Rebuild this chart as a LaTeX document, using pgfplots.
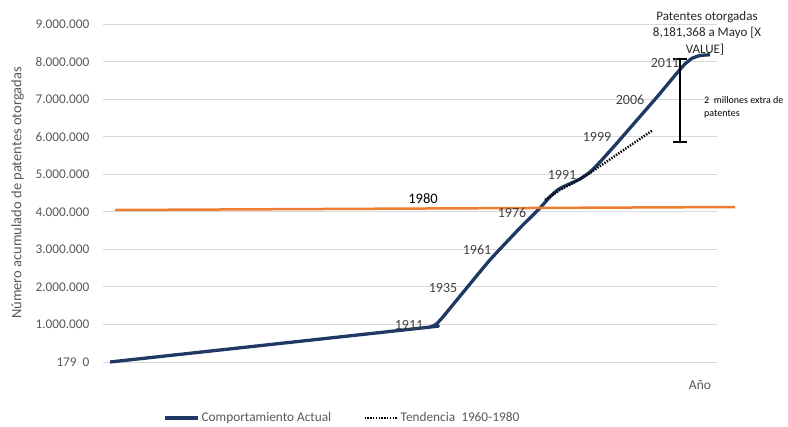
\documentclass[border=0pt]{standalone}
\usepackage{pgfplots}
\pgfplotsset{compat=1.18}
\usepackage{fontspec}
\setmainfont{Carlito}
\definecolor{navy}{HTML}{203864}
\definecolor{orng}{HTML}{ED7D31}
\definecolor{txtgray}{HTML}{595959}
\definecolor{yrgray}{HTML}{404040}
\definecolor{gridc}{HTML}{D9D9D9}
\begin{document}
\begin{tikzpicture}
\useasboundingbox (-103pt,-65pt) rectangle (685pt,362pt);
\begin{axis}[
  scale only axis, width=614pt, height=338pt,
  xmin=103, xmax=717, ymin=0, ymax=9000000,
  axis line style={draw=none},
  xtick=\empty,
  ytick={0,1000000,2000000,3000000,4000000,5000000,6000000,7000000,8000000,9000000},
  yticklabels={179\hspace{6pt}0,1.000.000,2.000.000,3.000.000,4.000.000,5.000.000,6.000.000,7.000.000,8.000.000,9.000.000},
  scaled y ticks=false,
  ymajorgrids, major grid style={gridc, line width=0.8pt},
  major tick length=0pt,
  yticklabel style={font=\fontsize{13.3}{15}\selectfont, text=txtgray, xshift=-10pt},
  ylabel={Número acumulado de patentes otorgadas},
  ylabel style={at={(axis description cs:-0.139,0.5)}, anchor=center, font=\fontsize{14.5}{16}\selectfont, text=txtgray},
  clip=false,
  legend columns=2,
  legend cell align=left,
  legend style={at={(axis description cs:0.093,-0.166)}, anchor=west, draw=none, fill=none,
    font=\fontsize{13.3}{15}\selectfont, text=txtgray,
    /tikz/every even column/.append style={column sep=30pt}},
  legend image code/.code={\draw[#1] (0pt,0pt) -- (33pt,0pt);},
]
\addplot[navy, line width=3.3pt, line join=round, smooth, tension=0.3] coordinates {
(110,0) (425,915000) (431,940000) (436,1000000) (442,1170000)
(450,1430000) (463,1850000) (490,2720000)
(520,3570000) (540,4100000) (550,4400000) (558,4590000) (567,4713000)
(580,4873000) (590,5059000) (600,5325000) (617,5831000) (637,6444000)
(657,7056000) (677,7695000) (685,7935000) (692,8085000) (700,8160000) (710,8181368)
};
\addlegendentry{Comportamiento Actual}
\addplot[black, line width=2.4pt, dash pattern=on 1.4pt off 1.4pt] coordinates {
(545,4314000) (560,4580000) (575,4793000) (590,5032000) (653,6177000)
};
\addlegendentry{Tendencia\ \ 1960-1980}
\addplot[orng, line width=2.5pt, forget plot] coordinates {(115,4047000) (735,4127000)};
\addplot[draw=none, mark=none, forget plot,
  error bars/.cd, y dir=both, y explicit,
  error bar style={black, line width=2.5pt},
  error mark options={black, rotate=90, mark size=7pt, line width=2.5pt}]
  coordinates {(680,6963000) +- (0,1105000)};
\begin{scope}[font=\fontsize{14}{16}\selectfont, text=yrgray]
\node at (axis cs:409,985000) {1911};
\node at (axis cs:443,1970000) {1935};
\node at (axis cs:477,2982000) {1961};
\node at (axis cs:512,3967000) {1976};
\node at (axis cs:562,4979000) {1991};
\node at (axis cs:597,5991000) {1999};
\node at (axis cs:630,6976000) {2006};
\node at (axis cs:665,7961000) {2011};
\end{scope}
\node[font=\fontsize{14.5}{16}\selectfont, text=black] at (axis cs:423,4340000) {1980};
\begin{scope}[font=\fontsize{13}{15}\selectfont, text=black!85]
\node at (axis cs:707,9186000) {Patentes otorgadas};
\node at (axis cs:707,8760000) {8,181,368 a Mayo [X};
\node at (axis cs:705,8308000) {VALUE]};
\end{scope}
\node[font=\fontsize{10}{12}\selectfont, anchor=west, inner sep=0pt] at (axis cs:704,6976000) {2\ \ millones extra de};
\node[font=\fontsize{10}{12}\selectfont, anchor=west, inner sep=0pt] at (axis cs:704,6603000) {patentes};
\node[font=\fontsize{13.5}{15}\selectfont, text=txtgray] at (axis cs:700,-612000) {Año};
\end{axis}
\end{tikzpicture}
\end{document}
